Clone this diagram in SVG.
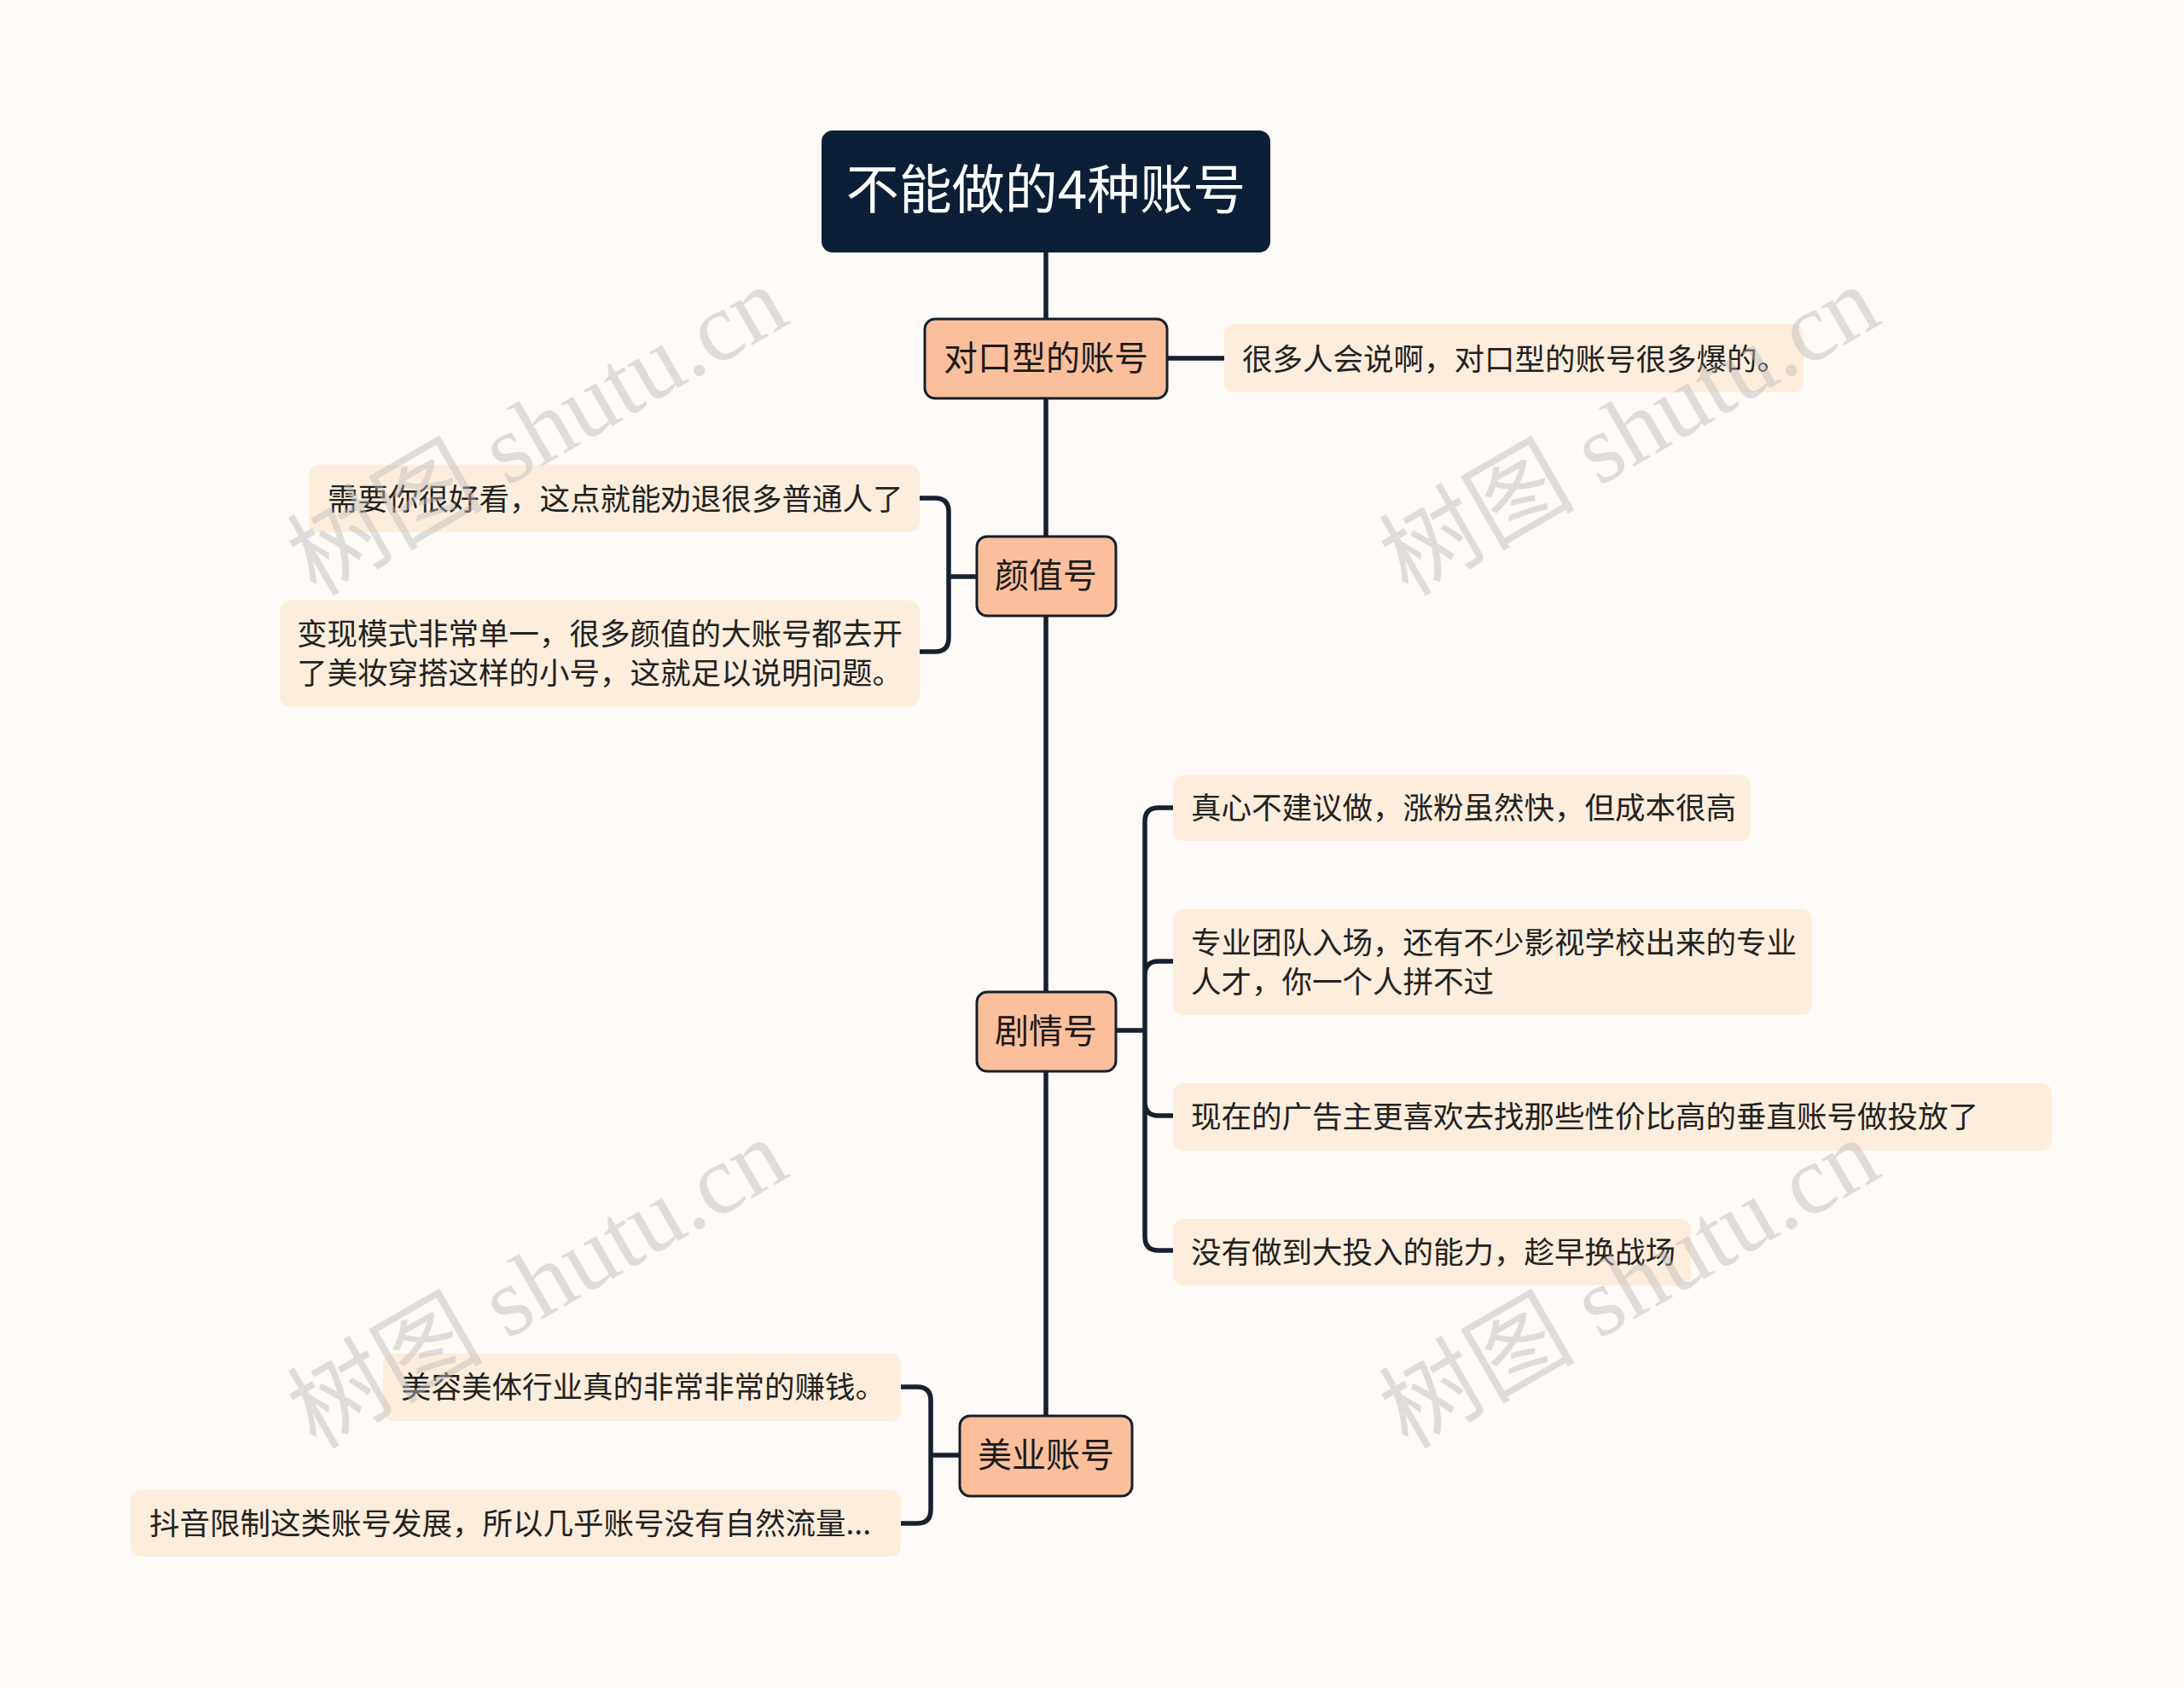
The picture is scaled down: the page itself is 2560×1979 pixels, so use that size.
<svg xmlns="http://www.w3.org/2000/svg" width="2560" height="1979" viewBox="0 0 2560 1979">
<style>
.b{fill:#fbbf9b;stroke:#16202e;stroke-width:3}
.bt{font-family:"Noto Sans CJK SC","Noto Sans",sans-serif;font-size:40px;fill:#1b1b1b;text-anchor:middle}
.l{fill:#fdeddc}
.lt{font-family:"Noto Sans CJK SC","Noto Sans",sans-serif;font-size:35.5px;fill:#222}
.c{fill:none;stroke:#16202e;stroke-width:5.5;stroke-linecap:round}
.w{font-family:"Liberation Serif","Noto Sans CJK SC",serif;font-size:115px;fill:#bbb;opacity:0.45}
</style>
<rect width="2560" height="1979" fill="#fefaf7"/>
<g id="connectors">
<path class="c" d="M1226 296V1660"/>
<path class="c" d="M1368 420H1435"/>
<path class="c" d="M1145 676H1112M1078 584H1096Q1112 584 1112 600V748Q1112 764 1096 764H1078"/>
<path class="c" d="M1308 1208H1342M1375 947H1358Q1342 947 1342 963V1450Q1342 1466 1358 1466H1375M1342 1143Q1342 1127 1358 1127H1375M1342 1292Q1342 1308 1358 1308H1375"/>
<path class="c" d="M1125 1706H1091M1056 1626H1075Q1091 1626 1091 1642V1770Q1091 1786 1075 1786H1056"/>
</g>
<g id="root"><rect x="963" y="153" width="526" height="143" rx="13" fill="#0d1f37"/><text x="1226" y="245" font-family="Noto Sans CJK SC,sans-serif" font-size="62" fill="#fff" text-anchor="middle">不能做的4种账号</text></g>
<g id="n1"><rect class="b" x="1084" y="374" width="284" height="93" rx="12"/><text class="bt" x="1226" y="434">对口型的账号</text></g>
<g id="n2"><rect class="b" x="1145" y="629" width="163" height="93" rx="12"/><text class="bt" x="1226" y="689">颜值号</text></g>
<g id="n3"><rect class="b" x="1145" y="1163" width="163" height="93" rx="12"/><text class="bt" x="1226" y="1223">剧情号</text></g>
<g id="n4"><rect class="b" x="1125" y="1660" width="202" height="94" rx="12"/><text class="bt" x="1226" y="1720">美业账号</text></g>
<g id="l1"><rect class="l" x="1435" y="380" width="679" height="80" rx="12"/><text class="lt" x="1456" y="434">很多人会说啊，对口型的账号很多爆的。</text></g>
<g id="l2"><rect class="l" x="362" y="545" width="716" height="79" rx="12"/><text class="lt" x="384" y="598">需要你很好看，这点就能劝退很多普通人了</text></g>
<g id="l3"><rect class="l" x="328" y="704" width="750" height="124" rx="12"/><text class="lt" x="348" y="756">变现模式非常单一，很多颜值的大账号都去开</text><text class="lt" x="348" y="802">了美妆穿搭这样的小号，这就足以说明问题。</text></g>
<g id="l4"><rect class="l" x="1375" y="909" width="677" height="77" rx="12"/><text class="lt" x="1396" y="960">真心不建议做，涨粉虽然快，但成本很高</text></g>
<g id="l5"><rect class="l" x="1375" y="1066" width="749" height="124" rx="12"/><text class="lt" x="1396" y="1118">专业团队入场，还有不少影视学校出来的专业</text><text class="lt" x="1396" y="1164">人才，你一个人拼不过</text></g>
<g id="l6"><rect class="l" x="1375" y="1270" width="1030" height="79" rx="12"/><text class="lt" x="1396" y="1322">现在的广告主更喜欢去找那些性价比高的垂直账号做投放了</text></g>
<g id="l7"><rect class="l" x="1375" y="1429" width="607" height="78" rx="12"/><text class="lt" x="1396" y="1481">没有做到大投入的能力，趁早换战场</text></g>
<g id="l8"><rect class="l" x="449" y="1587" width="607" height="79" rx="12"/><text class="lt" x="470" y="1639">美容美体行业真的非常非常的赚钱。</text></g>
<g id="l9"><rect class="l" x="153" y="1747" width="903" height="78" rx="12"/><text class="lt" x="175" y="1799">抖音限制这类账号发展，所以几乎账号没有自然流量...</text></g>
<g id="watermarks">
<text class="w" transform="translate(370,700) rotate(-30)">树图 shutu.cn</text>
<text class="w" transform="translate(1650,700) rotate(-30)">树图 shutu.cn</text>
<text class="w" transform="translate(370,1700) rotate(-30)">树图 shutu.cn</text>
<text class="w" transform="translate(1650,1700) rotate(-30)">树图 shutu.cn</text>
</g>
</svg>
